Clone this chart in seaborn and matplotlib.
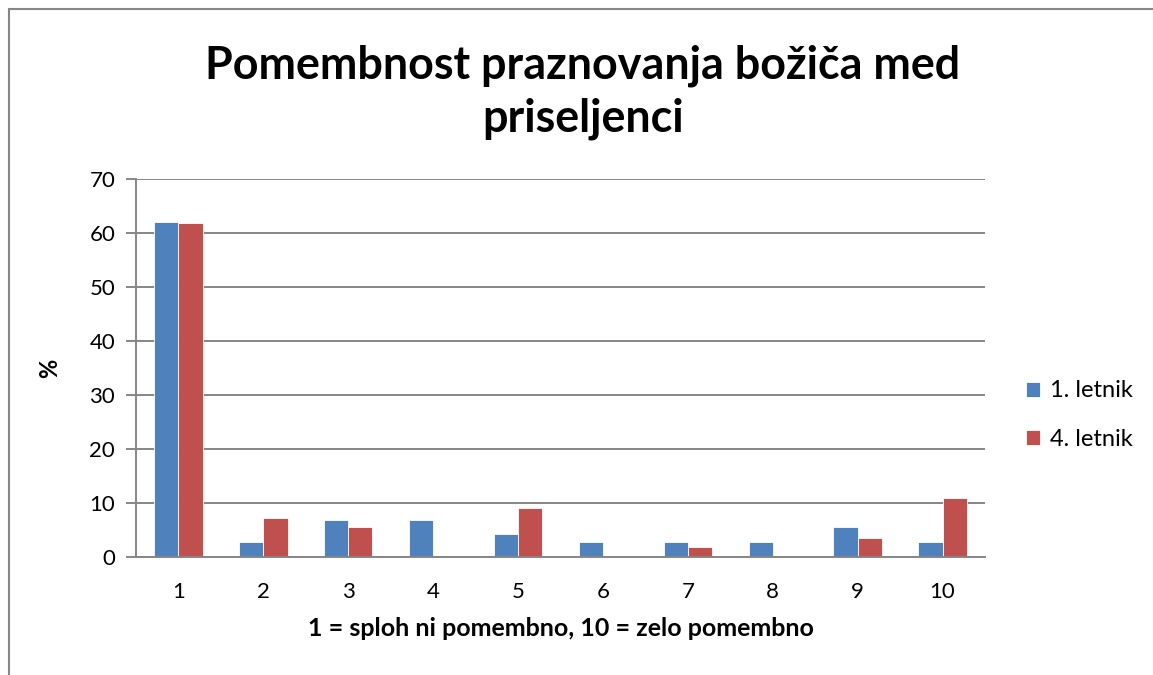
import matplotlib
matplotlib.use("Agg")
import matplotlib.pyplot as plt
import matplotlib.patches as mpatches
import seaborn as sns
import pandas as pd

categories = ["1", "2", "3", "4", "5", "6", "7", "8", "9", "10"]
series_names = ["1. letnik", "4. letnik"]
letnik1 = [62.0, 2.8, 6.9, 6.9, 4.2, 2.8, 2.8, 2.8, 5.5, 2.8]
letnik4 = [61.8, 7.3, 5.5, 0.0, 9.1, 0.0, 1.8, 0.0, 3.6, 10.9]
yticks = [0, 10, 20, 30, 40, 50, 60, 70]
title = "Pomembnost praznovanja božiča med\npriseljenci"
xlabel = "1 = sploh ni pomembno, 10 = zelo pomembno"
ylabel = "%"
colors = ["#4F81BD", "#C0504D"]

df = pd.DataFrame({
    "kategorija": categories * 2,
    "vrednost": letnik1 + letnik4,
    "serija": [series_names[0]] * len(categories) + [series_names[1]] * len(categories),
})

sns.set_theme(style="white")
plt.rcParams["font.family"] = ["Lato", "DejaVu Sans"]
plt.rcParams["text.color"] = "black"
plt.rcParams["axes.labelcolor"] = "black"

fig = plt.figure(figsize=(11.53, 6.75), dpi=100)
ax = fig.add_axes([136 / 1153, 1 - 557 / 675, (985 - 136) / 1153, (557 - 179) / 675])

sns.barplot(data=df, x="kategorija", y="vrednost", hue="serija", order=categories,
            hue_order=series_names, palette=colors, width=0.57, ax=ax,
            edgecolor="#ffffff", linewidth=0.6, saturation=1, errorbar=None)

ax.set_xlim(-0.5, len(categories) - 0.5)
ax.set_ylim(0, 70)
ax.set_yticks(yticks)
ax.set_yticklabels([str(t) for t in yticks])
ax.yaxis.grid(True, color="#868686", linewidth=1.4)
ax.set_axisbelow(True)
for s in ["top", "right"]:
    ax.spines[s].set_visible(False)
for s in ["left", "bottom"]:
    ax.spines[s].set_color("#868686")
    ax.spines[s].set_linewidth(1.4)
ax.tick_params(axis="y", direction="out", length=7, width=1.4, color="#868686",
               labelsize=16, pad=8, left=True, labelcolor="black")
ax.tick_params(axis="x", length=0, labelsize=16, pad=18, labelcolor="black")

ax.set_xlabel(xlabel, fontsize=18, fontweight="bold", labelpad=11)
ax.set_ylabel(ylabel, fontsize=17, fontweight="bold", labelpad=20)

fig.text(583 / 1153, 1 - 92 / 675, title, ha="center", va="center",
         fontsize=32.3, fontweight="bold", linespacing=1.32)

handles, labels = ax.get_legend_handles_labels()
ax.get_legend().remove()
fig.legend(handles, labels, loc="center left", bbox_to_anchor=(1005 / 1153, 1 - 415 / 675),
           frameon=False, fontsize=17, handlelength=0.6, handleheight=0.6,
           handletextpad=0.4, labelspacing=1.15)

fig.patches.append(mpatches.Rectangle((9 / 1153, -0.1), 1.2, 1 - 9 / 675 + 0.1,
                                      transform=fig.transFigure, fill=False,
                                      edgecolor="#868686", linewidth=1.5))

fig.savefig("out.png", dpi=100)
